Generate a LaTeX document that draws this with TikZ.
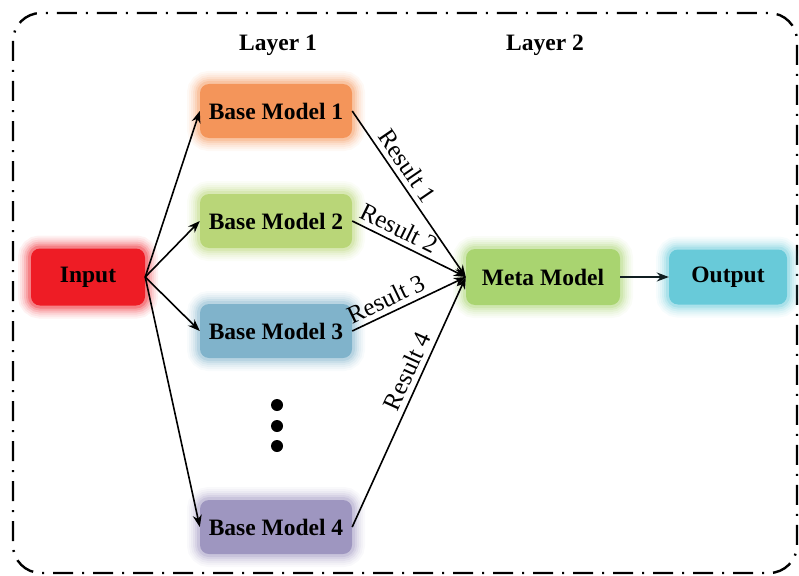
\documentclass[tikz,border=0pt]{standalone}
\usepackage{fontspec}
\setmainfont{Liberation Serif}
\usetikzlibrary{arrows.meta}
\definecolor{cin}{HTML}{EE1C25}
\definecolor{cb1}{HTML}{F4955A}
\definecolor{cb2}{HTML}{B9D678}
\definecolor{cb3}{HTML}{80B3CB}
\definecolor{cb4}{HTML}{9E96C0}
\definecolor{cmeta}{HTML}{A9D470}
\definecolor{cout}{HTML}{68CAD9}
\tikzset{
  glowbox/.style={rounded corners=9pt, inner sep=0pt, fill=#1,
    font=\fontsize{23.5}{26}\selectfont\bfseries,
    preaction={draw=#1, line width=26pt, draw opacity=0.06},
    preaction={draw=#1, line width=22pt, draw opacity=0.07},
    preaction={draw=#1, line width=18pt, draw opacity=0.09},
    preaction={draw=#1, line width=14pt, draw opacity=0.12},
    preaction={draw=#1, line width=10pt, draw opacity=0.16},
    preaction={draw=#1, line width=6pt, draw opacity=0.25}},
  basebox/.style={glowbox=#1, minimum width=152pt, minimum height=54pt},
  conn/.style={line width=1.6pt, -{Stealth[length=12pt,width=9pt]}},
  reslabel/.style={sloped, above, font=\fontsize{25}{28}\selectfont, inner sep=5pt},
  layerlabel/.style={font=\fontsize{23.5}{26}\selectfont\bfseries},
  dotnode/.style={circle, fill=black, inner sep=0pt, minimum size=12pt},
  frame/.style={line width=2.4pt, rounded corners=28pt, dash pattern=on 20pt off 9pt on 2pt off 9pt}
}
\begin{document}
\begin{tikzpicture}[x=1pt,y=-1pt]
\useasboundingbox (0,0) rectangle (799,575);
\draw[frame] (13,13) rectangle (797,573);

\node[layerlabel] (l1) at (278,45) {Layer 1};
\node[layerlabel] (l2) at (545,45) {Layer 2};

\node[glowbox=cin, minimum width=114pt, minimum height=57pt] (in) at (88,277) {Input};
\node[basebox=cb1] (b1) at (276,111) {Base Model 1};
\node[basebox=cb2] (b2) at (276,221) {Base Model 2};
\node[basebox=cb3] (b3) at (276,331) {Base Model 3};
\node[basebox=cb4] (b4) at (276,527) {Base Model 4};
\node[glowbox=cmeta, minimum width=154pt, minimum height=56pt] (meta) at (543,277) {Meta Model};
\node[glowbox=cout, minimum width=118pt, minimum height=55pt] (out) at (728,277) {Output};

\node[dotnode] (d1) at (277,405) {};
\node[dotnode] (d2) at (277,426) {};
\node[dotnode] (d3) at (277,446) {};

\draw[conn] (in.east) -- (b1.west);
\draw[conn] (in.east) -- (b2.west);
\draw[conn] (in.east) -- (b3.west);
\draw[conn] (in.east) -- (b4.west);

\draw[conn] (b1.east) -- node[reslabel, pos=0.38] {Result 1} (meta.west);
\draw[conn] (b2.east) -- node[reslabel, pos=0.36] {Result 2} (meta.west);
\draw[conn] (b3.east) -- node[reslabel, pos=0.35] {Result 3} (meta.west);
\draw[conn] (b4.east) -- node[reslabel, pos=0.6] {Result 4} (meta.west);

\draw[conn, draw=black!85!cout] (meta.east) -- (out.west);
\end{tikzpicture}
\end{document}
